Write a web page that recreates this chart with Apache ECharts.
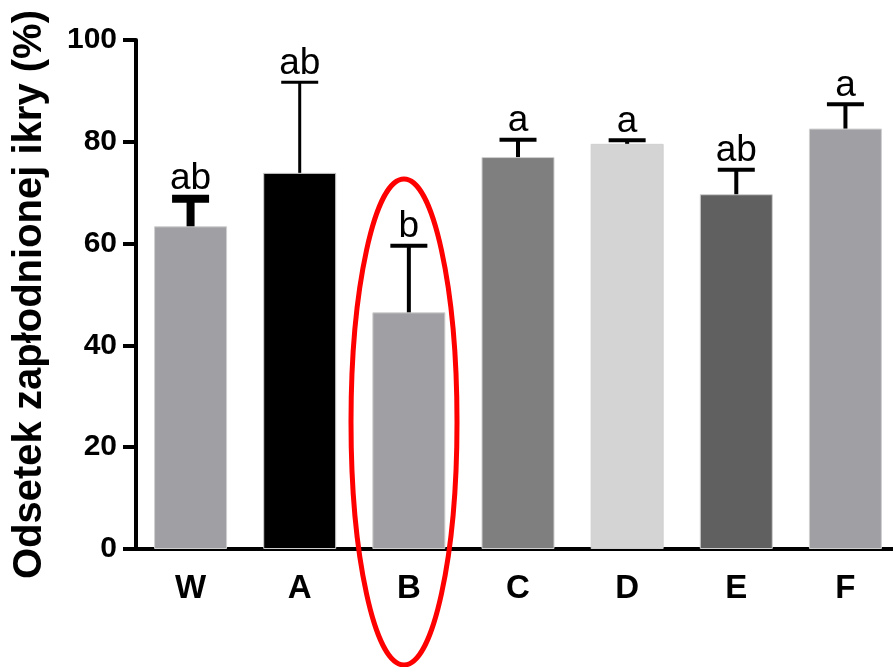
<!DOCTYPE html>
<html><head><meta charset="utf-8">
<script src="https://cdn.jsdelivr.net/npm/echarts@6/dist/echarts.min.js"></script>
<style>html,body{margin:0;padding:0;background:#fff}#c{width:893px;height:667px}</style>
</head><body><div id="c"></div>
<script>
const categories = ['W', 'A', 'B', 'C', 'D', 'E', 'F'];
const means = [63.4, 73.9, 46.5, 77.0, 79.6, 69.7, 82.6];
const upper = [68.8, 91.7, 59.6, 80.4, 80.3, 74.5, 87.4];
const letters = ['ab', 'ab', 'b', 'a', 'a', 'ab', 'a'];
const yTickValues = [0, 20, 40, 60, 80, 100];
const yTitle = 'Odsetek zapłodnionej ikry (%)';

const barColors = ['#a09fa4', '#000000', '#a09fa4', '#7f7f7f', '#d4d4d4', '#606060', '#a09fa4'];
const errLineWidths = [8, 3, 4, 4, 4, 4, 4];
const FONT = '"Liberation Sans", Arial, Helvetica, sans-serif';

const chart = echarts.init(document.getElementById('c'), null, {renderer: 'canvas'});

function renderErr(params, api) {
  const i = api.value(0);
  const base = api.coord([i, api.value(1)]);
  const top = api.coord([i, api.value(2)]);
  const w = errLineWidths[i];
  const half = 18.5;
  return {
    type: 'group',
    children: [
      {type: 'line', shape: {x1: base[0], y1: base[1], x2: top[0], y2: top[1]},
       style: {stroke: '#000', lineWidth: w}},
      {type: 'line', shape: {x1: top[0] - half, y1: top[1], x2: top[0] + half, y2: top[1]},
       style: {stroke: '#000', lineWidth: w}},
      {type: 'text', style: {text: letters[i], x: top[0], y: top[1] - w / 2 + 2,
       align: 'center', verticalAlign: 'bottom', fontSize: 37, fontFamily: FONT, fill: '#000'}}
    ]
  };
}

chart.setOption({
  animation: false,
  backgroundColor: '#fff',
  grid: {left: 136, width: 764, top: 40, bottom: 118, containLabel: false, outerBoundsMode: 'none'},
  xAxis: {
    type: 'category',
    data: categories,
    axisLine: {lineStyle: {color: '#000', width: 4}},
    axisTick: {alignWithLabel: true, length: 12, lineStyle: {color: '#000', width: 4}},
    axisLabel: {color: '#000', fontWeight: 'bold', fontSize: 33, fontFamily: FONT, margin: 23}
  },
  yAxis: {
    type: 'value',
    min: 0, max: 100, interval: 20,
    name: yTitle,
    nameLocation: 'middle',
    nameRotate: 90,
    nameGap: 86,
    nameTextStyle: {color: '#000', fontWeight: 'bold', fontSize: 40, fontFamily: FONT},
    axisLine: {show: true, lineStyle: {color: '#000', width: 4}},
    axisTick: {show: true, length: 13, lineStyle: {color: '#000', width: 4}},
    axisLabel: {color: '#000', fontWeight: 'bold', fontSize: 30, fontFamily: FONT, margin: 19,
      formatter: v => yTickValues.includes(v) ? String(v) : ''},
    splitLine: {show: false}
  },
  series: [
    {
      type: 'bar',
      barWidth: 73,
      data: means.map((v, i) => ({value: v, itemStyle: {color: barColors[i]}})),
      itemStyle: {borderColor: '#cfcfcf', borderWidth: 1},
      z: 2
    },
    {
      type: 'custom',
      renderItem: renderErr,
      data: means.map((m, i) => [i, m, upper[i]]),
      z: 3
    }
  ],
  graphic: [
    {type: 'ellipse', shape: {cx: 404, cy: 422, rx: 53, ry: 243},
     style: {fill: 'none', stroke: '#ff0000', lineWidth: 5}, z: 100}
  ]
});
</script>
</body></html>
